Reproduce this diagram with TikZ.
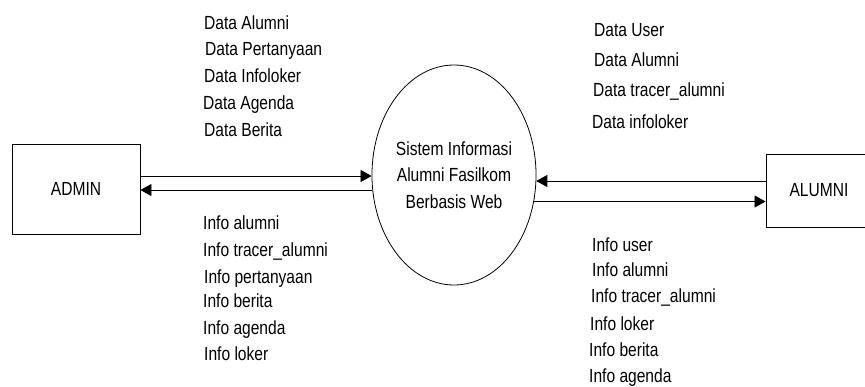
\documentclass[tikz,border=0pt]{standalone}
\usepackage{fontspec}
\setmainfont{Liberation Sans}[FakeStretch=0.82]
\usetikzlibrary{arrows.meta,shapes.geometric}
\begin{document}
\begin{tikzpicture}[x=1pt,y=-1pt,
  every node/.style={font=\fontsize{19}{26.5}\selectfont,text=black},
  lbl/.style={anchor=base west,inner sep=0pt},
  entity/.style={draw,line width=0.9pt,rectangle,inner sep=0pt},
  proc/.style={draw,line width=0.8pt,ellipse,inner sep=0pt,minimum width=158pt,minimum height=220pt,align=center},
  arr/.style={line width=0.8pt,-{Triangle[length=11pt,width=12pt]}}]
\useasboundingbox (0,0) rectangle (865,386);
% entities
\node[entity,minimum width=128pt,minimum height=90pt] (admin) at (76,189) {ADMIN};
\node[entity,minimum width=106pt,minimum height=73pt] (alumni) at (819,190.5) {ALUMNI};
% process
\node[proc] (sys) at (454,175) {Sistem Informasi\\Alumni Fasilkom\\Berbasis Web};
% flows
\draw[arr] ([yshift=13pt]admin.east) -- ([yshift=-1pt]sys.west);
\draw[arr] ([yshift=-15pt,xshift=0.7pt]sys.west) -- ([yshift=-1pt]admin.east);
\draw[arr] ([yshift=9.5pt]alumni.west) -- ([yshift=-6pt,xshift=-0.1pt]sys.east);
\draw[arr] ([yshift=-26.5pt,xshift=-2.4pt]sys.east) -- ([yshift=-11pt]alumni.west);
% top-left labels
\node[lbl] (da1) at (204,29) {Data Alumni};
\node[lbl] (da2) at (205,55.5) {Data Pertanyaan};
\node[lbl] (da3) at (204,82.5) {Data Infoloker};
\node[lbl] (da4) at (203,109) {Data Agenda};
\node[lbl] (da5) at (204,136) {Data Berita};
% bottom-left labels
\node[lbl] (ia1) at (203,229) {Info alumni};
\node[lbl] (ia2) at (203,256.5) {Info tracer\_alumni};
\node[lbl] (ia3) at (204,283) {Info pertanyaan};
\node[lbl] (ia4) at (203,307.5) {Info berita};
\node[lbl] (ia5) at (203,334) {Info agenda};
\node[lbl] (ia6) at (204,360) {Info loker};
% top-right labels
\node[lbl] (du1) at (594,36) {Data User};
\node[lbl] (du2) at (594,66) {Data Alumni};
\node[lbl] (du3) at (593,96.5) {Data tracer\_alumni};
\node[lbl] (du4) at (592,128) {Data infoloker};
% bottom-right labels
\node[lbl] (iu1) at (592,251.5) {Info user};
\node[lbl] (iu2) at (592,276.5) {Info alumni};
\node[lbl] (iu3) at (591,302) {Info tracer\_alumni};
\node[lbl] (iu4) at (590,330) {Info loker};
\node[lbl] (iu5) at (589,356.5) {Info berita};
\node[lbl] (iu6) at (589,382) {Info agenda};
\end{tikzpicture}
\end{document}
